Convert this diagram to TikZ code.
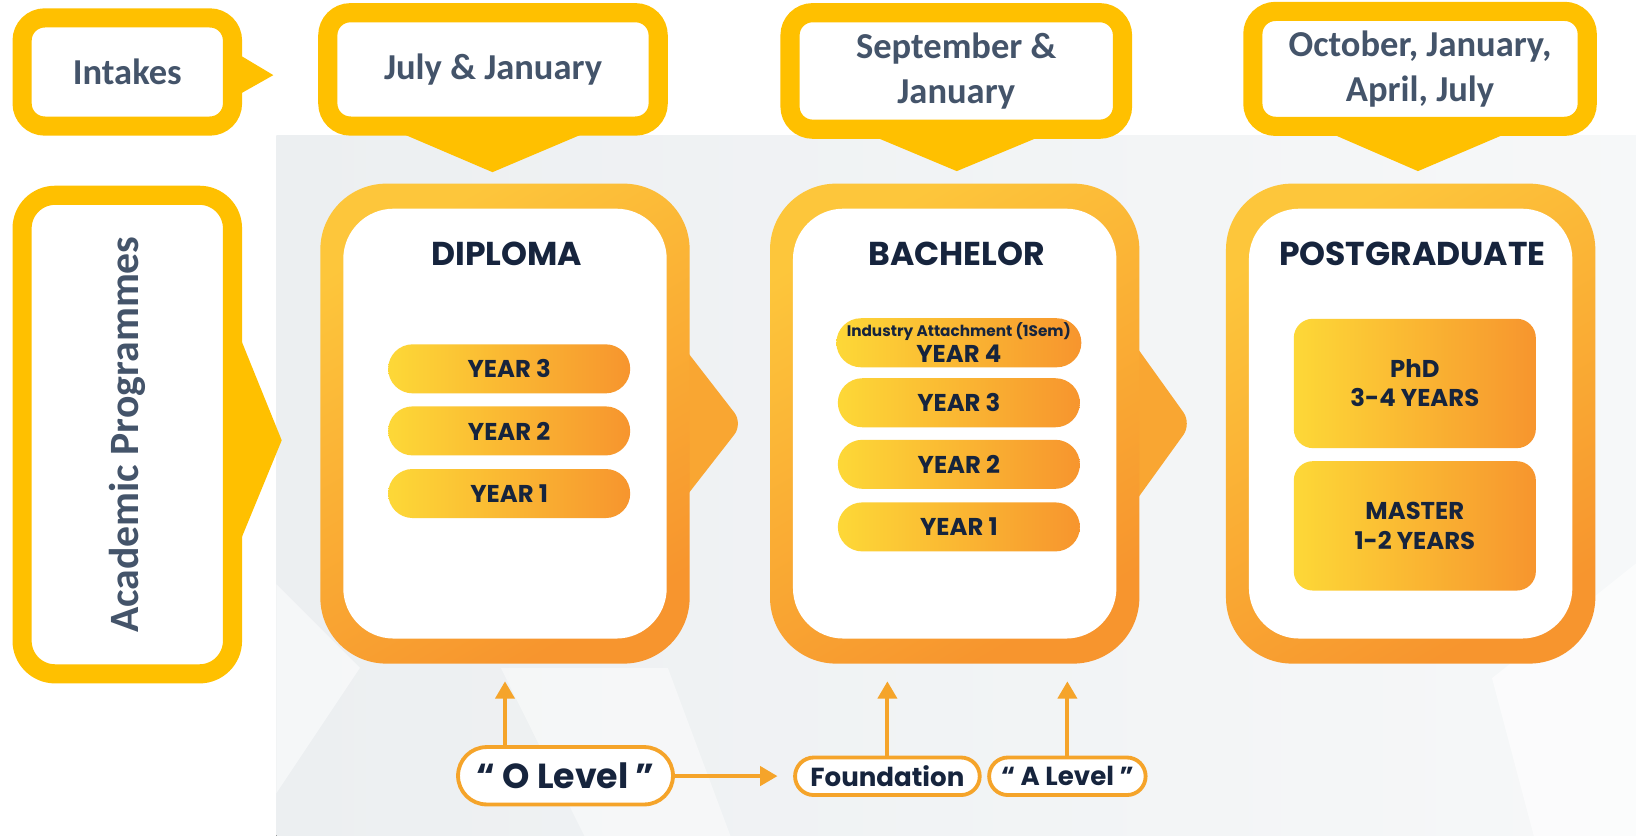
\documentclass[tikz,border=0pt]{standalone}
\usepackage{fontspec}
\setmainfont{Carlito}
\newfontfamily\cardfont{Poppins}
\usetikzlibrary{shapes.misc,arrows.meta,calc,positioning}
\definecolor{intakeY}{HTML}{FFC000}
\definecolor{intakeTxt}{HTML}{44546A}
\definecolor{navy}{HTML}{16243D}
\definecolor{cardA}{HTML}{FDC63B}
\definecolor{cardB}{HTML}{F7952E}
\definecolor{cardM}{HTML}{F9A632}
\definecolor{pillA}{HTML}{FDD837}
\definecolor{pillB}{HTML}{F7952E}
\definecolor{lineO}{HTML}{F5A42A}
\definecolor{panel}{HTML}{ECEFF1}
\tikzstyle{intake} = [draw=intakeY, line width=11pt, fill=white, rounded corners=13pt,
    inner sep=0pt, align=center, text=intakeTxt,
    font=\bfseries\fontsize{21}{25.8}\selectfont]
\tikzstyle{pointer} = [fill=intakeY]
\tikzstyle{cardout} = [rectangle, rounded corners=38pt, top color=cardA, bottom color=cardB,
    shading angle=30, minimum width=212.4pt, minimum height=276pt]
\tikzstyle{cardin} = [rectangle, rounded corners=29pt, fill=white,
    minimum width=186pt, minimum height=247.2pt]
\tikzstyle{cardtitle} = [font=\cardfont\bfseries\fontsize{19}{22}\selectfont, text=navy]
\tikzstyle{year} = [rounded rectangle, left color=pillA, right color=pillB, inner sep=0pt,
    minimum width=139.2pt, minimum height=28.2pt, align=center, text=navy,
    font=\cardfont\bfseries\fontsize{14}{17}\selectfont]
\tikzstyle{degree} = [rectangle, rounded corners=11pt, left color=pillA, right color=pillB,
    minimum width=139.2pt, minimum height=74.4pt, align=center, text=navy,
    font=\cardfont\bfseries\fontsize{14}{16.8}\selectfont]
\tikzstyle{entry} = [rounded rectangle, draw=lineO, line width=2.2pt, fill=white, inner sep=0pt,
    text=navy, font=\cardfont\bfseries\fontsize{15}{18}\selectfont]
\tikzstyle{conn} = [draw=lineO, line width=2.2pt, shorten >=10pt,
    -{Triangle[length=10pt,width=11pt]}]

\begin{document}
\begin{tikzpicture}[x=0.6pt, y=-0.6pt]
    \useasboundingbox (0,0) rectangle (1568,801);

    % grey panel behind the programmes
    \fill[left color=panel, right color=panel!45] (265,130) rectangle (1568,801);
    \fill[white, opacity=.5] (265,560) -- (345,640) -- (265,760) -- cycle;
    \fill[white, opacity=.45] (480,640) -- (640,640) -- (700,801) -- (560,801) -- cycle;
    \fill[white, opacity=.6] (1430,650) -- (1568,540) -- (1568,801) -- (1470,801) -- cycle;

    % pointers of the row headers
    \fill[pointer] (200,35) -- (262,72) -- (200,107) -- cycle;
    \fill[pointer] (200,249) -- (270,422) -- (200,592) -- cycle;

    \node[intake, minimum width=121pt, minimum height=62.2pt] (intk) at (122,69) {Intakes};
    \node[intake, rotate=90, rounded corners=19pt, minimum width=275.2pt, minimum height=121pt,
        font=\bfseries\fontsize{24}{28}\selectfont] (acad) at (122,416.5) {Academic Programmes};

    % intakes of each programme
    \fill[pointer] (355,115) -- (472,165) -- (590,115) -- cycle;
    \fill[pointer] (800,115) -- (917,164) -- (1035,115) -- cycle;
    \fill[pointer] (1246,115) -- (1359,164) -- (1474,115) -- cycle;

    \node[intake, minimum width=190pt, minimum height=65.2pt] (jul) at (472.5,66.5) {July \& January};
    \node[intake, minimum width=191.2pt, minimum height=67pt] (sep) at (916.5,68) {September \&\\January};
    \node[intake, minimum width=192.3pt, minimum height=66.1pt] (oct) at (1361,66) {October, January,\\April, July};

    % programme cards
    \fill[cardM, rounded corners=8pt] (645,319.5) -- (712,406) -- (645,492) -- cycle;
    \fill[cardM, rounded corners=8pt] (1080,319.5) -- (1142,406) -- (1080,492) -- cycle;

    \node[cardout] (dip) at (484,406) {};
    \node[cardin] (dipin) at (dip.center) {};
    \node[cardtitle] (diptitle) at (485.6,243.4) {DIPLOMA};
    \node[year] (d3) at (488,353.5) {YEAR 3};
    \node[year] (d2) at (488,413) {YEAR 2};
    \node[year] (d1) at (488,473) {YEAR 1};

    \node[cardout] (bach) at (915,406) {};
    \node[cardin] (bachin) at (bach.center) {};
    \node[cardtitle] (bachtitle) at (917,243.4) {BACHELOR};
    \node[year] (b4) at (919,328.5) {{\fontsize{8.8}{10}\selectfont Industry Attachment (1Sem)}\\[-2pt] YEAR 4};
    \node[year] (b3) at (919,386) {YEAR 3};
    \node[year] (b2) at (919,445) {YEAR 2};
    \node[year] (b1) at (919,505) {YEAR 1};

    \node[cardout] (pg) at (1352,406) {};
    \node[cardin] (pgin) at (pg.center) {};
    \node[cardtitle] (pgtitle) at (1353.6,243) {POSTGRADUATE};
    \node[degree] (phd) at (1356,367.5) {PhD\\3-4 YEARS};
    \node[degree] (mst) at (1356,504) {MASTER\\1-2 YEARS};

    % entry routes
    \node[entry, minimum width=123.6pt, minimum height=33pt,
        font=\cardfont\bfseries\fontsize{20}{24}\selectfont] (olev) at (542,743.5) {“ O Level ”};
    \node[entry, minimum width=106.2pt, minimum height=21.6pt] (fnd) at (850.5,744) {Foundation};
    \node[entry, minimum width=90pt, minimum height=21.6pt] (alev) at (1023,744) {“ A Level ”};

    \draw[conn] (olev.north -| dip.south) -- (dip.south);
    \draw[conn, shorten >=9pt] (olev) -- (fnd);
    \draw[conn] (fnd.north) -- (fnd.north |- bach.south);
    \draw[conn] (alev.north) -- (alev.north |- bach.south);
\end{tikzpicture}
\end{document}
